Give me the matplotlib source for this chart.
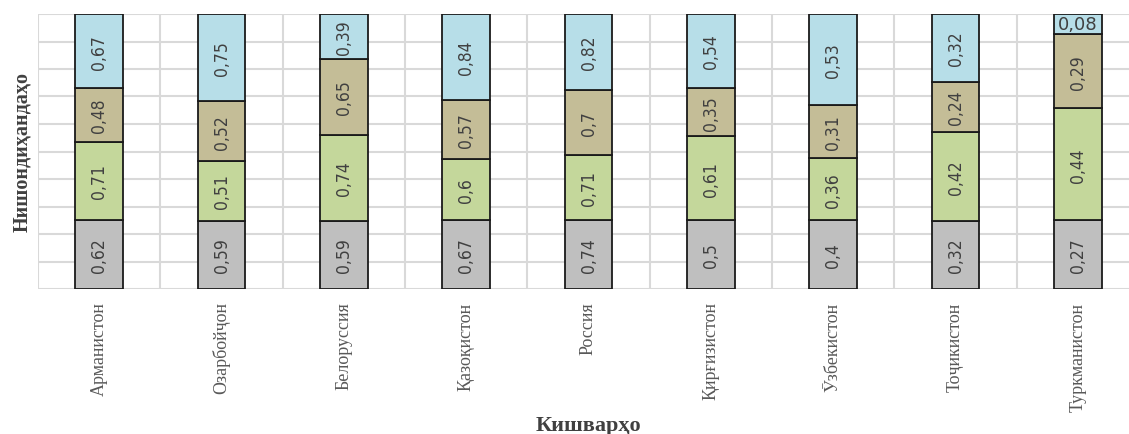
import matplotlib
matplotlib.use("Agg")
import matplotlib.pyplot as plt
import numpy as np

countries = ["Арманистон", "Озарбойҷон", "Белоруссия", "Қазоқистон", "Россия",
             "Қирғизистон", "Ӯзбекистон", "Тоҷикистон", "Туркманистон"]
s1 = [0.62, 0.59, 0.59, 0.67, 0.74, 0.5, 0.4, 0.32, 0.27]
s2 = [0.71, 0.51, 0.74, 0.6, 0.71, 0.61, 0.36, 0.42, 0.44]
s3 = [0.48, 0.52, 0.65, 0.57, 0.7, 0.35, 0.31, 0.24, 0.29]
s4 = [0.67, 0.75, 0.39, 0.84, 0.82, 0.54, 0.53, 0.32, 0.08]
series = [s1, s2, s3, s4]
colors = ["#BFBFBF", "#C4D79B", "#C4BD97", "#B7DEE8"]

fig = plt.figure(figsize=(11.29, 4.35), dpi=100)
ax = fig.add_axes([38/1129, (435-290)/435, (1139-38)/1129, 275/435])

data = np.array(series)
totals = data.sum(axis=0)
x = np.arange(len(countries))
bottom = np.zeros(len(countries))
for vals, col in zip(data, colors):
    frac = vals / totals
    ax.bar(x, frac, bottom=bottom, width=0.39, color=col, edgecolor="#1a1a1a",
           linewidth=1.3, zorder=3)
    for xi, b, f, v in zip(x, bottom, frac, vals):
        txt = ("%g" % v).replace(".", ",")
        if f < 0.1:
            ax.text(xi, b + f/2, txt, ha="center", va="center", fontsize=13,
                    color="#404040", family=["DejaVu Sans"], zorder=4)
        else:
            ax.text(xi, b + f/2, txt, ha="center", va="center", rotation=90,
                    fontsize=12.5, color="#404040", fontstretch="condensed",
                    family=["DejaVu Sans"], zorder=4)
    bottom = bottom + frac

ax.set_xlim(-0.5, len(countries) - 0.5)
ax.set_ylim(0, 1)
ax.set_yticks(np.arange(0, 1.01, 0.1))
ax.set_yticklabels([])
ax.set_xticks(x)
ax.set_xticklabels(countries, rotation=90, fontsize=13, color="#595959",
                   family=["Liberation Serif", "DejaVu Serif"])
ax.set_xticks(np.arange(-0.5, len(countries), 1), minor=True)
ax.tick_params(axis="both", which="both", length=0)
ax.tick_params(axis="x", pad=9)
ax.grid(True, axis="y", which="major", color="#D9D9D9", linewidth=1.5, zorder=0)
ax.grid(True, axis="x", which="minor", color="#D9D9D9", linewidth=1.5, zorder=0)
ax.grid(False, axis="x", which="major")
for sp in ax.spines.values():
    sp.set_visible(False)
ax.set_axisbelow(True)

fig.text(22/1129, 1 - 152/435, "Нишондиҳандаҳо", rotation=90, ha="center", va="center",
         fontsize=14.5, fontweight="bold", color="#404040",
         family=["Liberation Serif", "DejaVu Serif"])
fig.text(588/1129, 1 - 426/435, "Кишварҳо", ha="center", va="center",
         fontsize=16, fontweight="bold", color="#404040",
         family=["Liberation Serif", "DejaVu Serif"])

fig.savefig("out.png", dpi=100)
